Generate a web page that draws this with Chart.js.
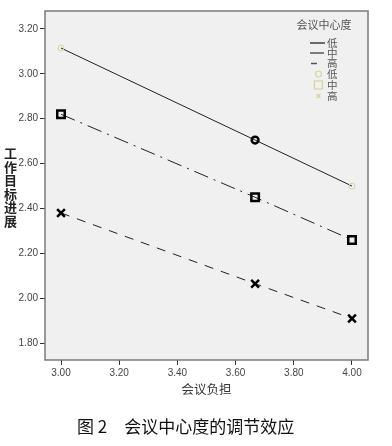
<!DOCTYPE html>
<html>
<head>
<meta charset="utf-8">
<script src="https://cdn.jsdelivr.net/npm/chart.js@4"></script>
<style>
  body { margin: 0; background: #fff; }
  .wrap { position: relative; width: 392px; height: 446px; }
  .ytitle {
    position: absolute; left: 2px; top: 147px; width: 16px;
    font: 600 13px "Noto Sans CJK SC"; color: #222; line-height: 16px;
    writing-mode: vertical-rl; text-orientation: upright; letter-spacing: 0.5px;
  }
  .caption {
    position: absolute; left: 77px; top: 413px;
    font: 17px "Noto Sans CJK SC"; color: #111; white-space: pre;
  }
</style>
</head>
<body>
<div class="wrap">
  <canvas id="chart" width="392" height="446"></canvas>
  <div class="ytitle">工作目标进展</div>
  <div class="caption">图 2　会议中心度的调节效应</div>
</div>
<script>
// 会议负担 (x) 三个水平
const xValues = [3.00, 3.667, 4.00]
// 工作目标进展，按会议中心度分组
const lowValues = [3.115, 2.705, 2.50]
const midValues = [2.82, 2.45, 2.26]
const highValues = [2.38, 2.065, 1.91]

const xTicks = [3.00, 3.20, 3.40, 3.60, 3.80, 4.00]
const yTicks = [1.80, 2.00, 2.20, 2.40, 2.60, 2.80, 3.00, 3.20]

const legendTitle = '会议中心度'
const legendLabels = ['低', '中', '高', '低', '中', '高']

const pale = '#d6d39e'

function pts(ys) {
    return xValues.map((x, i) => ({ x: x, y: ys[i] }))
}

// 绘图区背景、边框和图例
const boxPlugin = {
    id: 'box',
    beforeDraw(chart) {
        const { ctx, chartArea: a } = chart
        ctx.save()
        ctx.fillStyle = '#f0f0f0'
        ctx.fillRect(a.left, a.top, a.right - a.left, a.bottom - a.top)
        ctx.restore()
    },
    afterDraw(chart) {
        const { ctx, chartArea: a } = chart
        ctx.save()
        ctx.strokeStyle = '#7a7a7a'
        ctx.lineWidth = 1.5
        ctx.strokeRect(a.left, a.top, a.right - a.left, a.bottom - a.top)

        ctx.fillStyle = '#555'
        ctx.font = '11px "Noto Sans CJK SC"'
        ctx.textAlign = 'center'
        ctx.textBaseline = 'middle'
        ctx.fillText(legendTitle, 324, 25)

        const rows = [43, 53, 63.5, 74, 85, 96]
        ctx.font = '10.5px "Noto Sans CJK SC"'
        ctx.textAlign = 'left'
        rows.forEach((y, i) => {
            ctx.fillStyle = '#555'
            ctx.fillText(legendLabels[i], 327, y)
        })
        ctx.strokeStyle = '#222'
        ctx.lineWidth = 1.3
        ctx.beginPath()
        ctx.moveTo(310, rows[0]); ctx.lineTo(325, rows[0])
        ctx.stroke()
        ctx.strokeStyle = '#555'
        ctx.beginPath()
        ctx.moveTo(310, rows[1]); ctx.lineTo(324, rows[1])
        ctx.moveTo(311, rows[2]); ctx.lineTo(317, rows[2])
        ctx.stroke()

        ctx.strokeStyle = pale
        ctx.lineWidth = 1.2
        ctx.beginPath()
        ctx.arc(318.5, rows[3], 3, 0, Math.PI * 2)
        ctx.stroke()
        ctx.strokeRect(314.5, rows[4] - 4, 8, 8)
        ctx.beginPath()
        ctx.moveTo(316.5, rows[5] - 2); ctx.lineTo(320.5, rows[5] + 2)
        ctx.moveTo(320.5, rows[5] - 2); ctx.lineTo(316.5, rows[5] + 2)
        ctx.stroke()
        ctx.restore()
    }
}

const tickFont = { family: '"Liberation Sans", Arial', size: 10 }

new Chart(document.getElementById('chart'), {
    type: 'scatter',
    data: {
        datasets: [{
            label: '低',
            data: pts(lowValues),
            showLine: true,
            borderColor: '#222',
            borderWidth: 1,
            pointStyle: 'circle',
            pointRadius: [3, 3.4, 3],
            pointBorderWidth: [1, 2.5, 1],
            pointBorderColor: [pale, '#000', pale],
            pointBackgroundColor: 'rgba(0,0,0,0)'
        }, {
            label: '中',
            data: pts(midValues),
            showLine: true,
            borderColor: '#222',
            borderWidth: 1,
            borderDash: [15, 6, 2, 6],
            pointStyle: 'rect',
            pointRadius: 5.3,
            pointBorderWidth: 2.5,
            pointBorderColor: '#000',
            pointBackgroundColor: 'rgba(0,0,0,0)'
        }, {
            label: '高',
            data: pts(highValues),
            showLine: true,
            borderColor: '#222',
            borderWidth: 1,
            borderDash: [9, 8],
            pointStyle: 'crossRot',
            pointRadius: 5.5,
            pointBorderWidth: 2.5,
            pointBorderColor: '#000'
        }]
    },
    options: {
        responsive: false,
        animation: false,
        layout: { padding: { top: 11, right: 24, left: 0, bottom: 46 } },
        plugins: {
            legend: { display: false },
            tooltip: { enabled: false }
        },
        scales: {
            x: {
                type: 'linear',
                min: 2.945,
                max: 4.055,
                afterBuildTicks: s => { s.ticks = xTicks.map(v => ({ value: v })) },
                afterFit: s => { s.height = 40 },
                grid: { drawOnChartArea: false, drawTicks: true, tickLength: 5, color: '#333' },
                border: { display: false },
                ticks: {
                    padding: 2,
                    color: '#444',
                    font: tickFont,
                    maxRotation: 0,
                    callback: v => v.toFixed(2)
                },
                title: {
                    display: true,
                    text: '会议负担',
                    color: '#333',
                    font: { family: '"Noto Sans CJK SC"', size: 12.5 },
                    padding: { top: 0, bottom: 3.5 }
                }
            },
            y: {
                min: 1.725,
                max: 3.28,
                afterBuildTicks: s => { s.ticks = yTicks.map(v => ({ value: v })) },
                afterFit: s => { s.width = 45 },
                grid: { drawOnChartArea: false, drawTicks: true, tickLength: 5, color: '#333' },
                border: { display: false },
                ticks: {
                    padding: 2,
                    color: '#444',
                    font: tickFont,
                    callback: v => v.toFixed(2)
                }
            }
        }
    },
    plugins: [boxPlugin]
})
</script>
</body>
</html>
